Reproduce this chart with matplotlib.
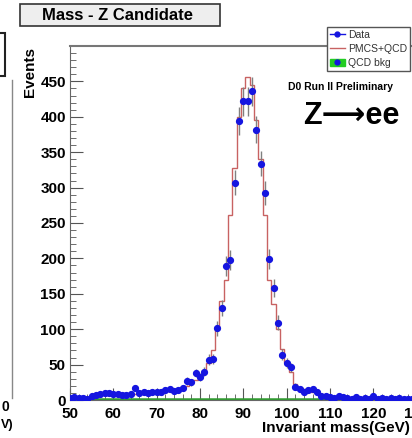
import numpy as np
import matplotlib
matplotlib.use("Agg")
import matplotlib.pyplot as plt
from matplotlib.lines import Line2D
from matplotlib.patches import Patch, Rectangle

plt.rcParams['font.family'] = ['Liberation Sans', 'DejaVu Sans']

# bin centres in GeV (1 GeV bins)
mass = np.arange(50, 131)

# data (events per bin)
data = [3, 4, 3, 3, 2, 6, 7, 9, 10, 10,
        9, 8, 7, 7, 8, 17, 10, 11, 10, 11,
        11, 12, 14, 15, 13, 14, 17, 27, 25, 38,
        33, 40, 57, 58, 101, 130, 189, 198, 307, 394,
        422, 422, 436, 382, 334, 292, 199, 158, 109, 64,
        52, 46, 19, 15, 12, 14, 15, 11, 6, 5,
        4, 3, 5, 4, 3, 2, 4, 2, 3, 2,
        5, 2, 3, 1, 3, 2, 3, 2, 1, 2,
        1]

# PMCS+QCD prediction
pmcs = [2, 3, 3, 4, 4, 5, 6, 7, 8, 8,
        8, 8, 8, 9, 9, 9, 10, 10, 10, 11,
        11, 12, 13, 14, 14, 15, 17, 20, 24, 28,
        33, 40, 52, 70, 100, 140, 170, 261, 328, 400,
        440, 456, 445, 395, 340, 262, 170, 135, 100, 72,
        53, 40, 22, 17, 15, 13, 12, 10, 8, 7,
        6, 5, 5, 4, 4, 4, 3, 3, 3, 3,
        3, 2, 2, 2, 2, 2, 2, 2, 2, 1,
        1]

# QCD background
qcd = [2, 2, 2, 2, 2, 2, 2, 2, 2, 2,
       2, 2, 2, 2, 2, 2, 2, 2, 2, 2,
       2, 2, 2, 2, 2, 2, 2, 2, 2, 2,
       2, 2, 2, 2, 2, 2, 2, 2, 2, 2,
       2, 2, 2, 2, 2, 2, 2, 2, 2, 2,
       2, 2, 2, 2, 2, 2, 2, 2, 2, 2,
       2, 2, 2, 2, 2, 2, 2, 2, 2, 2,
       2, 2, 2, 2, 2, 2, 2, 2, 2, 2,
       2]

W, H = 412, 438
fig = plt.figure(figsize=(W / 100, H / 100), dpi=100)
ax = fig.add_axes([70 / W, 38 / H, 346.6 / W, 354 / H])

edges = np.append(mass - 0.5, mass[-1] + 0.5)
ax.stairs(qcd, edges, color='#2f9a2f', lw=1.8, zorder=2)
ax.stairs(pmcs, edges, color='#c86262', lw=1.0, zorder=3)
ax.errorbar(mass, data, yerr=np.sqrt(data), fmt='none', ecolor='#808080',
            elinewidth=1.0, zorder=4)
ax.plot(mass, data, 'o', color='#1515e0', ms=4.2, zorder=5)

ax.set_xlim(50, 130)
ax.set_ylim(0, 500)
ax.set_xticks(np.arange(50, 131, 10))
ax.set_xticks(np.arange(50, 131, 2), minor=True)
ax.set_yticks(np.arange(0, 451, 50))
ax.set_yticks(np.arange(0, 501, 10), minor=True)
ax.tick_params(which='both', direction='in', color='#555555', labelsize=11)
ax.tick_params(which='major', length=9)
ax.tick_params(which='minor', length=4.5)
ax.tick_params(axis='y', pad=3)
ax.tick_params(axis='x', pad=5)
for lab in ax.get_xticklabels() + ax.get_yticklabels():
    lab.set_fontweight('bold')
ax.spines['right'].set_visible(False)
ax.spines['top'].set_color('#777777')
ax.spines['top'].set_linewidth(1.5)
ax.spines['left'].set_color('#666666')
ax.spines['bottom'].set_color('#666666')

# legend
handles = [Line2D([], [], color='#1515e0', marker='o', ms=3.5, lw=1),
           Line2D([], [], color='#c86262', lw=1),
           (Patch(facecolor='#22cc22', edgecolor='#22cc22'),
            Line2D([], [], color='#1515e0', marker='o', ms=3.5, lw=0))]
leg = fig.legend(handles, ['Data', 'PMCS+QCD', 'QCD bkg'],
                 loc='upper left', bbox_to_anchor=(327 / W, 1 - 27 / H),
                 fontsize=7.5, handlelength=1.5, handletextpad=0.25,
                 labelspacing=0.4, borderpad=0.25, borderaxespad=0,
                 fancybox=False, framealpha=1, edgecolor='#555555')
for t in leg.get_texts():
    t.set_color('#333333')

fig.text(288 / W, 1 - 87 / H, 'D0 Run II Preliminary', fontsize=7.5,
         fontweight='bold', va='center', ha='left')
fig.text(303 / W, 1 - 116 / H, 'Z\u27f6ee', fontsize=22,
         fontweight='bold', va='center', ha='left')

# title box
fig.add_artist(Rectangle((20 / W, 1 - 26 / H), 200 / W, 22 / H,
                         transform=fig.transFigure, facecolor='#eeeeee',
                         edgecolor='#333333', lw=1.2))
fig.text(118 / W, 1 - 15 / H, 'Mass - Z Candidate', fontsize=12,
         fontweight='bold', ha='center', va='center')

fig.text(30 / W, 1 - 72 / H, 'Events', fontsize=11, fontweight='bold',
         rotation=90, ha='center', va='center')
fig.text(262 / W, 1 - 428 / H, 'Invariant mass(GeV)', fontsize=11,
         fontweight='bold', ha='left', va='center')

# edge of the neighbouring panel
fig.add_artist(Line2D([12 / W, 12 / W], [1 - 80 / H, 1 - 398 / H],
                      transform=fig.transFigure, color='#888888', lw=1))
fig.add_artist(Rectangle((-5 / W, 1 - 76 / H), 10 / W, 43 / H,
                         transform=fig.transFigure, facecolor='white',
                         edgecolor='#222222', lw=1.5))
fig.text(1 / W, 1 - 407 / H, '0', fontsize=10, fontweight='bold',
         ha='left', va='center')
fig.text(0.5 / W, 1 - 425 / H, 'V)', fontsize=9, fontweight='bold',
         ha='left', va='center')

fig.savefig('out.png', dpi=100)
